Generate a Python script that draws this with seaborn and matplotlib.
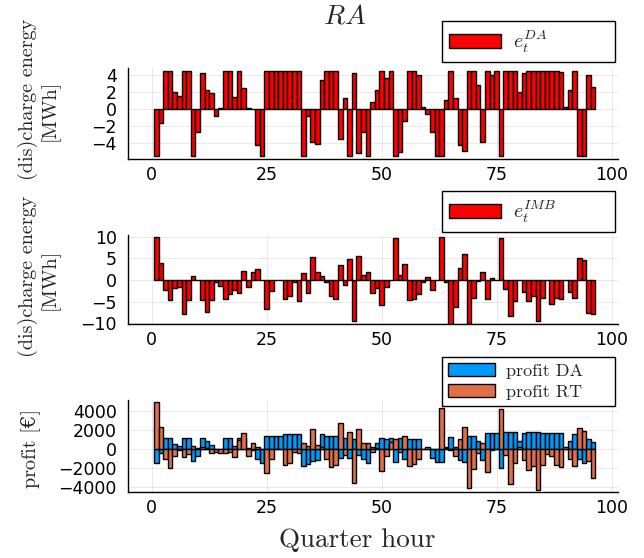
import numpy as np
import pandas as pd
import matplotlib
matplotlib.use("Agg")
import matplotlib.pyplot as plt
import seaborn as sns

quarter = list(range(1, 97))

e_da = [-5.5, -1.6, 4.5, 4.5, 2.0, 1.5, 4.5, 4.5, -5.5, -2.7,
        4.2, 2.2, 1.85, -0.85, 0.2, 4.5, 4.5, 1.4, 4.5, 2.5,
        0.15, 0.05, -4.2, -5.5, 4.5, 4.5, 4.5, 4.5, 4.5, 4.5,
        4.5, 4.5, -5.5, -0.85, -3.85, -4.1, 3.4, 4.5, 4.5, 4.5,
        -3.5, 1.3, -5.5, 4.2, -5.1, -2.7, -5.5, 0.9, 2.3, 4.5,
        3.7, 4.5, -5.5, -5.0, -1.4, 4.5, 4.5, 4.0, 0.3, -0.55,
        -2.7, -5.5, -5.5, 1.1, 4.5, 1.3, -4.2, -4.9, 4.5, 4.5,
        2.8, -3.85, 4.5, 4.0, 4.5, -5.5, 4.5, 4.5, 4.5, 2.0,
        4.2, 4.5, 4.5, 4.5, 4.5, 4.5, 4.5, 4.5, 4.4, 0.3,
        2.3, 4.5, -5.5, -5.5, 4.0, 2.6]

e_imb = [10.0, 3.85, -2.3, -4.6, -1.9, -1.5, -7.9, -4.6, 1.0, -0.1,
         -4.6, -7.3, -4.6, -0.5, -1.3, -4.4, -3.3, -2.3, -2.9, 2.1,
         -1.5, 1.9, 2.5, 0.0, -6.8, -2.5, 0.0, 0.0, -4.4, -3.7,
         -0.5, -4.9, 1.7, -2.9, 5.4, 1.9, 1.0, -0.5, -3.8, -4.5,
         3.5, -1.15, 4.8, -9.4, 5.6, 1.15, 1.8, -2.9, -1.8, -5.8,
         -1.7, 0.0, 9.6, 1.15, 3.6, -4.6, -4.4, -3.3, -0.4, 0.6,
         -2.3, 0.0, 10.0, -0.4, -10.1, -6.3, 2.7, 5.9, -10.1, -4.2,
         -0.2, 1.8, -4.5, 0.5, -0.1, 9.6, -2.0, -8.3, -4.8, 0.0,
         -2.7, -4.8, -3.7, -9.4, -4.2, 0.0, -5.5, -4.2, -4.4, 0.0,
         -2.7, -4.1, 5.0, 4.6, -7.7, -7.9]

profit_da = [-1500, -450, 1200, 1200, 500, 350, 1200, 1200, -1300, -700,
             1200, 800, 400, -150, -100, 1200, 1200, 350, 1200, 1200,
             100, -150, -1000, -1450, 1400, 1400, 1400, 1400, 1550, 1550,
             1550, 1550, -1750, -1600, -1250, -1150, 1550, 1400, 1400, 1400,
             -900, 1200, -900, 1100, -600, -1000, -1450, 250, 600, 1200,
             1100, 1200, -1350, 1200, -1000, 1100, 1100, 1050, 50, 100,
             -900, -1350, -1350, 250, 1300, 250, -1150, -1350, 1400, 1400,
             850, -1150, 1650, 1650, 1650, -2050, 1750, 1750, 1750, 800,
             1650, 1750, 1750, 1750, 1650, 1650, 1650, 1650, 1650, 50,
             800, 1550, -1000, -1500, 1050, 700]

profit_rt = [4900, 2350, -1000, -2000, -750, -100, -800, -550, 350, 100,
             250, 150, -450, -350, -450, -450, -350, -800, 950, 1650,
             -750, 650, 250, 50, -2550, -1000, 0, 0, -1700, -1500,
             -300, -450, 650, 300, 2100, 400, 200, -1000, -1850, -1700,
             2700, -650, 1750, -3550, 2100, 650, 650, -350, 100, -2300,
             -700, 700, 1050, -300, 1400, -1750, -1600, -1000, 0, 250,
             0, 0, 4350, 100, -150, -750, 1050, 2350, -4150, -2100,
             -450, 600, -2400, -100, 0, 4200, -600, -3700, -1500, 200,
             -1150, -2200, -1750, -4300, -1700, -550, -700, -1700, -1850, 250,
             -1050, -1800, 2200, 1900, -1300, -3100]

xticks = [0, 25, 50, 75, 100]
yticks1 = [-4, -2, 0, 2, 4]
yticks2 = [-10, -5, 0, 5, 10]
yticks3 = [-4000, -2000, 0, 2000, 4000]

sns.set_theme(style="white")
plt.rcParams["mathtext.fontset"] = "cm"
plt.rcParams["font.family"] = ["DejaVu Sans"]
serif = ["cmr10", "DejaVu Serif"]

W, H = 644, 558
fig = plt.figure(figsize=(W / 100, H / 100), dpi=100)

def axes_px(left, right, top, bottom):
    return fig.add_axes([left / W, 1 - bottom / H, (right - left) / W, (bottom - top) / H])

ax1 = axes_px(128, 618, 68, 159)
ax2 = axes_px(128, 618, 235, 324)
ax3 = axes_px(128, 618, 400, 492)

df1 = pd.DataFrame({"qh": quarter, "v": e_da})
df2 = pd.DataFrame({"qh": quarter, "v": e_imb})
df3 = pd.DataFrame({"qh": quarter, "da": profit_da, "rt": profit_rt})

common = dict(native_scale=True, orient="x", errorbar=None, width=1.0,
              edgecolor="black", linewidth=1.0, saturation=1)

sns.barplot(data=df1, x="qh", y="v", color="#ff0000", ax=ax1, label=r"$e_t^{DA}$", **common)
sns.barplot(data=df2, x="qh", y="v", color="#ff0000", ax=ax2, label=r"$e_t^{IMB}$", **common)
sns.barplot(data=df3, x="qh", y="da", color="#009AFA", ax=ax3, label="profit DA", **common)
sns.barplot(data=df3, x="qh", y="rt", color="#E36F47", ax=ax3, label="profit RT", **common)

lims = [(-5.83, 4.83), (-10.16, 10.4), (-4526, 5158)]
ticks = [yticks1, yticks2, yticks3]
for ax, yl, yt in zip([ax1, ax2, ax3], lims, ticks):
    ax.set_xlim(-5.15, 101.4)
    ax.set_ylim(*yl)
    ax.set_xticks(xticks)
    ax.set_yticks(yt)
    ax.set_xlabel("")
    ax.set_ylabel("")
    ax.grid(True, color="black", alpha=0.1, linewidth=0.6)
    ax.set_axisbelow(True)
    for s in ["top", "right"]:
        ax.spines[s].set_visible(False)
    for s in ["left", "bottom"]:
        ax.spines[s].set_color("black")
        ax.spines[s].set_linewidth(1.0)
    ax.tick_params(direction="in", length=5, width=1, color="black",
                   labelsize=12.5, labelcolor="black")
    ax.tick_params(axis="y", pad=8)
    ax.tick_params(axis="x", pad=5)
    ax.patch.set_alpha(0)

leg_kw = dict(frameon=True, fancybox=False, edgecolor="black", framealpha=1,
              handlelength=2.6, handleheight=0.7, borderaxespad=0, mode="expand",
              loc="lower left", borderpad=0.35, labelspacing=0.3, handletextpad=0.6)
l1 = ax1.legend(bbox_to_anchor=(314 / 490, (68 - 62) / 91 + 1, 173 / 490, 0.1),
                prop={"size": 14.5}, **leg_kw)
l2 = ax2.legend(bbox_to_anchor=(314 / 490, (235 - 232) / 89 + 1, 173 / 490, 0.1),
                prop={"size": 14.5}, **leg_kw)
l3 = ax3.legend(bbox_to_anchor=(314 / 490, 1 - (406 - 400) / 92, 173 / 490, 0.1),
                prop={"family": serif, "size": 13}, **leg_kw)
for lg in (l1, l2, l3):
    lg.get_frame().set_linewidth(1.0)
    lg.set_clip_on(False)

fig.text(345 / W, 1 - 15 / H, r"$RA$", ha="center", va="center", fontsize=20)

for cy1, cy2 in [(99, 110), (276, 279)]:
    fig.text(28 / W, 1 - cy1 / H, "(dis)charge energy", rotation=90, ha="center",
             va="center", fontsize=14.5, family=serif)
    fig.text(50 / W, 1 - cy2 / H, "[MWh]", rotation=90, ha="center",
             va="center", fontsize=14.5, family=serif)
fig.text(30 / W, 1 - 448 / H, "profit [€]", rotation=90, ha="center", va="center",
         fontsize=14.5, family=serif)
fig.text(357 / W, 1 - 540 / H, "Quarter hour", ha="center", va="center",
         fontsize=19.5, family=serif)

fig.savefig("out.png", dpi=100, facecolor="white")
